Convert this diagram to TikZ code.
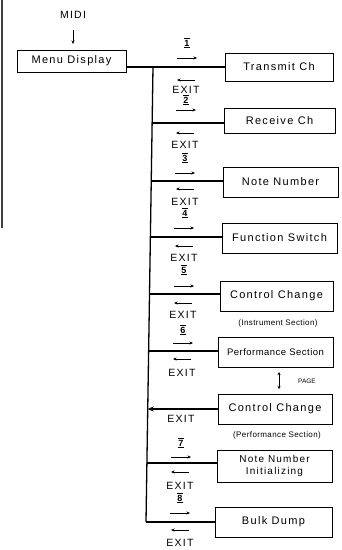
\documentclass[tikz,border=0pt]{standalone}
\usepackage{fontspec}
\setmainfont{Liberation Sans}
\newfontfamily\wide{Liberation Sans}[LetterSpace=12]
\newfontfamily\semi{Liberation Sans}[LetterSpace=5]
\usetikzlibrary{arrows.meta}
\begin{document}
\begin{tikzpicture}[x=1pt,y=-1pt,
  box/.style={draw,line width=0.8pt,inner sep=0pt,anchor=center,font=\wide\fontsize{11}{13}\selectfont},
  conn/.style={line width=1.3pt},
  lab/.style={inner sep=0pt,font=\wide\fontsize{10.5}{12}\selectfont},
  keylab/.style={inner sep=0pt,font=\bfseries\fontsize{9}{10}\selectfont},
  sub/.style={inner sep=0pt,font=\semi\fontsize{8}{9}\selectfont},
  sarrow/.style={line width=0.7pt,-{Stealth[length=3.5pt,width=3pt]}}]
\fill[white] (0,0) rectangle (342,550);
\useasboundingbox (0,0) rectangle (342,550);
% scan edge
\draw[line width=1.2pt,black!75] (2,0) -- (2,228);
% title
\node[lab] (midi) at (73,15) {MIDI};
\coordinate (midiA) at (73,30);
\coordinate (midiB) at (73,44);
\draw[sarrow] (midiA) -- (midiB);
% boxes
\node[box,minimum width=109pt,minimum height=22pt] (menu) at (71.5,61) {Menu Display};
\node[box,minimum width=108pt,minimum height=28pt] (tx) at (279,67) {Transmit Ch};
\node[box,minimum width=111pt,minimum height=25pt] (rx) at (279.5,121) {Receive Ch};
\node[box,minimum width=115pt,minimum height=30pt] (nn) at (280.5,182) {Note Number};
\node[box,minimum width=115pt,minimum height=30pt] (fs) at (279.5,238) {Function Switch};
\node[box,minimum width=113pt,minimum height=30pt] (cc) at (276.5,296) {Control Change};
\node[box,minimum width=115pt,minimum height=30pt,font=\semi\fontsize{9.5}{11}\selectfont] (ps) at (275.5,352) {Performance Section};
\node[box,minimum width=114pt,minimum height=30pt] (ccp) at (275,409) {Control Change};
\node[box,minimum width=115pt,minimum height=32pt,align=center,font=\wide\fontsize{10}{12}\selectfont] (nni) at (274.5,466) {Note Number\\Initializing};
\node[box,minimum width=117pt,minimum height=30pt] (bd) at (273.5,522) {Bulk Dump};
\node[sub] (subI) at (278,323) {(Instrument Section)};
\node[sub] (subP) at (277,435) {(Performance Section)};
% PAGE
\coordinate (pgA) at (279,372);
\coordinate (pgB) at (279,389);
\draw[line width=0.7pt,{Stealth[length=3pt,width=3pt]}-{Stealth[length=3pt,width=3pt]}] (pgA) -- (pgB);
\node[inner sep=0pt,font=\fontsize{6.5}{7}\selectfont] (page) at (307,381) {PAGE};
% trunk and branches
\coordinate (t1) at (153,67);
\coordinate (t2) at (152.1,123);
\coordinate (t3) at (151.2,181);
\coordinate (t4) at (150.4,237);
\coordinate (t5) at (149.5,294);
\coordinate (t6) at (148.6,351);
\coordinate (t7) at (147.7,409);
\coordinate (t8) at (146.9,463);
\coordinate (t9) at (146.0,522);
\draw[conn] (menu.east |- t1) -- (tx.west |- t1);
\draw[conn] (t1) -- (t9);
\draw[conn] (t2) -- (rx.west |- t2);
\draw[conn] (t3) -- (nn.west |- t3);
\draw[conn] (t4) -- (fs.west |- t4);
\draw[conn] (t5) -- (cc.west |- t5);
\draw[conn] (t6) -- (ps.west |- t6);
\draw[conn,-{Stealth[length=6pt,width=5pt]}] (ccp.west |- t7) -- (t7);
\draw[conn] (t8) -- (nni.west |- t8);
\draw[conn] (t9) -- (bd.west |- t9);
% labels: keys, arrows, EXIT
\foreach \n/\x/\y in {1/187/43,2/186/100,3/185/158,4/185/213,5/184/270,6/183/330,7/181/443,8/180/498}{
  \node[keylab] (k\n) at (\x,\y) {$\overline{\underline{\mbox{\n}}}$};
}
\foreach \n/\x/\y in {1/187/58,2/186/110,3/185/173,4/184/228,5/184/286,6/183/343,7/181/457,8/180/513}{
  \coordinate (ra\n) at (\x-10,\y);
  \coordinate (rb\n) at (\x+10,\y);
  \draw[sarrow] (ra\n) -- (rb\n);
}
\foreach \n/\x/\y in {2/186/80,3/185/133,4/185/189,5/184/246,6/183/303,7/182/359,8/180/472,9/180/530}{
  \coordinate (la\n) at (\x+9,\y);
  \coordinate (lb\n) at (\x-9,\y);
  \draw[sarrow] (la\n) -- (lb\n);
}
\foreach \n/\x/\y in {2/186/90,3/185/145,4/185/202,5/184/258,6/183/315,7/182/373,7b/181/419,8/180/486,9/180/543}{
  \node[lab] (ex\n) at (\x,\y) {EXIT};
}
\end{tikzpicture}
\end{document}
